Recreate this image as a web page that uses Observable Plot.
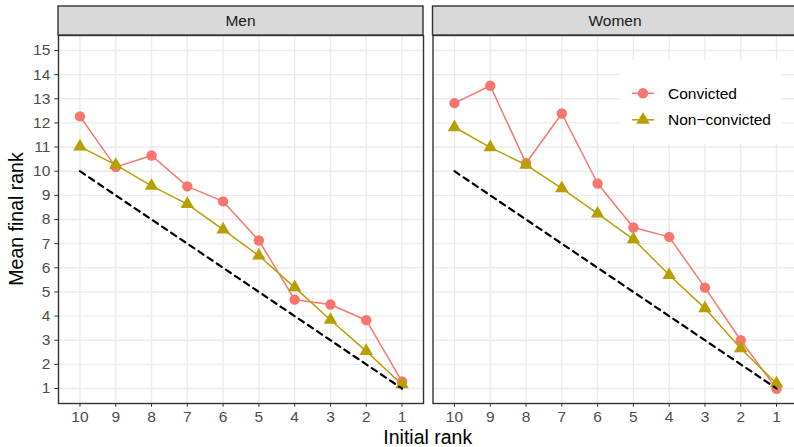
<!DOCTYPE html>
<html><head><meta charset="utf-8">
<script src="https://cdn.jsdelivr.net/npm/d3@7"></script>
<script src="https://cdn.jsdelivr.net/npm/@observablehq/plot@0.6"></script>
<style>
html,body{margin:0;padding:0;background:#fff;overflow:hidden}
#chart{width:794px;height:447px;overflow:hidden}
#chart svg{max-width:none;display:block}
</style>
</head><body><div id="chart"></div>
<script>
// ---- data ----
const ranks = [10, 9, 8, 7, 6, 5, 4, 3, 2, 1];
const sexes = ["Men", "Women"];
const groups = ["Convicted", "Non\u2212convicted"];
const groupColors = ["#F8766D", "#B79F00"];
const groupSymbols = ["circle", "triangle"];
const menConvicted      = [12.27, 10.17, 10.65, 9.37, 8.75, 7.13, 4.68, 4.48, 3.83, 1.29];
const menNonConvicted   = [11.02, 10.26, 9.39, 8.64, 7.58, 6.50, 5.19, 3.84, 2.55, 1.17];
const womenConvicted    = [12.82, 13.54, 10.33, 12.39, 9.49, 7.67, 7.28, 5.18, 3.00, 0.99];
const womenNonConvicted = [11.82, 10.99, 10.26, 9.29, 8.24, 7.18, 5.70, 4.32, 2.66, 1.21];
const yTicks = [1, 2, 3, 4, 5, 6, 7, 8, 9, 10, 11, 12, 13, 14, 15];
const yAxisTitle = "Mean final rank";
const xAxisTitle = "Initial rank";

const seriesBySex = {
  Men: [menConvicted, menNonConvicted],
  Women: [womenConvicted, womenNonConvicted]
};
const data = [];
for (const sex of sexes) {
  groups.forEach((g, gi) => {
    seriesBySex[sex][gi].forEach((v, i) => data.push({sex, group: g, rank: ranks[i], value: v}));
  });
}
// identity reference line (final rank = initial rank)
const diag = [ranks[0], ranks[ranks.length - 1]].map(r => ({rank: r, value: r}));

const FONT = '"Liberation Sans", Arial, Helvetica, sans-serif';
const W = 794, H = 447;

const chart = Plot.plot({
  width: W, height: H,
  marginLeft: 58, marginRight: -3.5, marginTop: 35, marginBottom: 44,
  style: {fontFamily: FONT, fontSize: "15.5px", fontWeight: "normal", background: "white", overflow: "hidden"},
  fx: {domain: sexes, paddingInner: 9.5 / 374.5, paddingOuter: 0, round: false, axis: null, label: null},
  x: {domain: [10.6, 0.4], label: null},
  y: {domain: [0.38, 15.62], label: null},
  color: {domain: groups, range: groupColors},
  marks: [
    Plot.gridX(ranks, {stroke: "#EBEBEB", strokeOpacity: 1, strokeWidth: 1.4}),
    Plot.gridY(yTicks, {stroke: "#EBEBEB", strokeOpacity: 1, strokeWidth: 1.4}),
    Plot.line(data, {fx: "sex", x: "rank", y: "value", z: "group", stroke: "group", strokeWidth: 1.5}),
    Plot.dot(data.filter(d => d.group === groups[0]), {fx: "sex", x: "rank", y: "value", fill: "group", symbol: groupSymbols[0], r: 5.2}),
    Plot.dot(data.filter(d => d.group === groups[1]), {fx: "sex", x: "rank", y: "value", fill: "group", symbol: groupSymbols[1], r: 5}),
    Plot.line(diag, {x: "rank", y: "value", stroke: "black", strokeWidth: 2.2, strokeDasharray: "6,5"}),
    Plot.frame({stroke: "#333333", strokeWidth: 1.4}),
    Plot.axisX(ranks, {tickSize: 3.7, tickPadding: 4, stroke: "#333333", fill: "#4D4D4D", fontSize: 15.5, tickFormat: d => String(d)}),
    Plot.axisY(yTicks, {tickSize: 3.7, tickPadding: 4.5, stroke: "#333333", fill: "#4D4D4D", fontSize: 15.5})
  ]
});
document.getElementById("chart").appendChild(chart);

// ---- strips, titles, legend ----
const svg = d3.select(chart);
const fx = chart.scale("fx");
const bw = fx.bandwidth;
function txt(sel) {
  return sel.style("font-family", FONT).style("font-weight", "normal");
}
for (const s of sexes) {
  const x0 = fx.apply(s);
  const g = svg.append("g");
  g.append("rect").attr("x", x0).attr("y", 6).attr("width", bw).attr("height", 29)
    .attr("fill", "#D9D9D9").attr("stroke", "#333333").attr("stroke-width", 1.4);
  txt(g.append("text").attr("x", x0 + bw / 2).attr("y", 20.8).attr("text-anchor", "middle")
    .attr("dominant-baseline", "central").attr("fill", "#1A1A1A"))
    .style("font-size", "15.5px").text(s);
}
txt(svg.append("text").attr("transform", "translate(23,219) rotate(-90)").attr("text-anchor", "middle")
  .attr("fill", "black")).style("font-size", "19.5px").text(yAxisTitle);
const xr = [fx.apply(sexes[0]), fx.apply(sexes[1]) + bw];
txt(svg.append("text").attr("x", (xr[0] + xr[1]) / 2).attr("y", 444).attr("text-anchor", "middle")
  .attr("fill", "black")).style("font-size", "19.5px").text(xAxisTitle);

const leg = svg.append("g").attr("transform", "translate(620,60)");
leg.append("rect").attr("width", 162).attr("height", 84).attr("fill", "white");
groups.forEach((g, i) => {
  const cy = 33.3 + i * 26.5;
  leg.append("line").attr("x1", 12).attr("x2", 34).attr("y1", cy).attr("y2", cy)
    .attr("stroke", groupColors[i]).attr("stroke-width", 1.5);
  const r = i === 0 ? 5.2 : 5;
  leg.append("path").attr("transform", `translate(23,${cy})`)
    .attr("d", d3.symbol(i === 0 ? d3.symbolCircle : d3.symbolTriangle, Math.PI * r * r)())
    .attr("fill", groupColors[i]);
  txt(leg.append("text").attr("x", 48).attr("y", cy).attr("text-anchor", "start")
    .attr("dominant-baseline", "central").attr("fill", "black"))
    .style("font-size", "15.5px").text(g);
});
</script>
</body></html>
